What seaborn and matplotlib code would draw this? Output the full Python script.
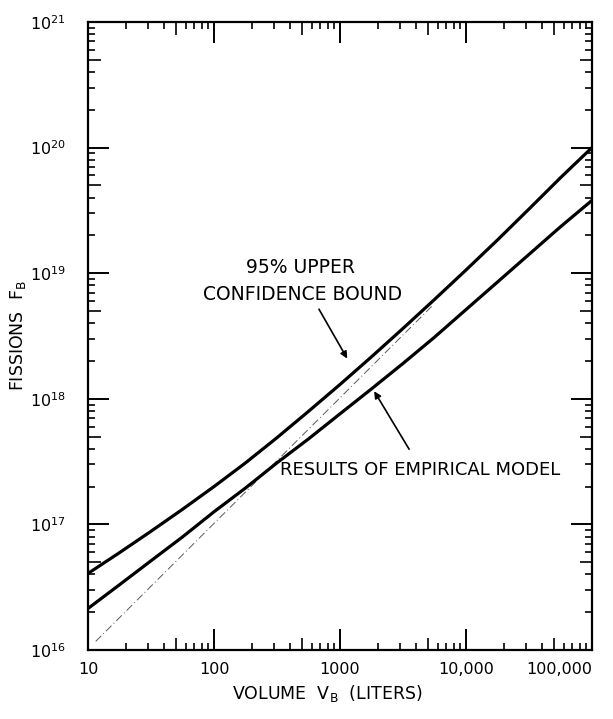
import numpy as np
import pandas as pd
import matplotlib
matplotlib.use("Agg")
import matplotlib.pyplot as plt
import matplotlib.ticker as mticker
import seaborn as sns

# values (log-log)
volume = [10, 17.8, 31.6, 56.2, 100, 178, 316, 562, 1000, 1780, 3160, 5620,
          10000, 17800, 31600, 56200, 100000]
fissions_upper = [4.07e16, 5.96e16, 8.81e16, 1.318e17, 2.0e17, 3.09e17, 4.9e17,
                  7.94e17, 1.30e18, 2.16e18, 3.63e18, 6.17e18, 1.06e19, 1.84e19,
                  3.24e19, 5.75e19, 1.0e20]
fissions_model = [2.14e16, 3.31e16, 5.13e16, 7.94e16, 1.26e17, 1.95e17, 3.09e17,
                  4.79e17, 7.59e17, 1.20e18, 1.91e18, 3.09e18, 5.13e18, 8.51e18,
                  1.41e19, 2.34e19, 3.8e19]

volume_thin = [11.5, 5500]
fissions_thin = [1.17e16, 5.6e18]

x_ticks = [10, 100, 1000, 10000, 100000]
x_ticklabels = ["10", "100", "1000", "10,000", "100,000"]

df_upper = pd.DataFrame({"volume": volume, "fissions": fissions_upper})
df_model = pd.DataFrame({"volume": volume, "fissions": fissions_model})
df_thin = pd.DataFrame({"volume": volume_thin, "fissions": fissions_thin})

sns.set_style("ticks")
plt.rcParams["font.family"] = ["DejaVu Sans"]
plt.rcParams["text.color"] = "black"

fig = plt.figure(figsize=(6.13, 7.19), dpi=100)
ax = fig.add_axes([0.1436, 0.096, 0.8221, 0.8734])

sns.lineplot(data=df_thin, x="volume", y="fissions", ax=ax, color="0.35",
             lw=0.7, linestyle=(0, (8, 3, 1, 3)))
sns.lineplot(data=df_upper, x="volume", y="fissions", ax=ax, color="black", lw=2.3)
sns.lineplot(data=df_model, x="volume", y="fissions", ax=ax, color="black", lw=2.3)

ax.set_xscale("log")
ax.set_yscale("log")
ax.set_xlim(10, 100000)
ax.set_ylim(1e16, 1e21)

# ticks
ax.xaxis.set_major_locator(mticker.FixedLocator(x_ticks))
ax.set_xticklabels(x_ticklabels)
ax.xaxis.set_minor_locator(mticker.LogLocator(base=10, subs=np.arange(2, 10), numticks=20))
ax.yaxis.set_major_locator(mticker.LogLocator(base=10, numticks=20))
ax.yaxis.set_minor_locator(mticker.LogLocator(base=10, subs=np.arange(2, 10), numticks=20))
ax.xaxis.set_minor_formatter(mticker.NullFormatter())
ax.yaxis.set_minor_formatter(mticker.NullFormatter())

ax.tick_params(which="both", direction="in", top=True, right=True, color="black")
ax.tick_params(which="major", length=15, width=1.4)
ax.tick_params(which="minor", length=5, width=1.2)
ax.tick_params(axis="x", which="major", labelsize=11.5, pad=9, labelcolor="black")
ax.tick_params(axis="y", which="major", labelsize=11.5, pad=16, labelcolor="black")

# longer minor tick at 5x
for axis in (ax.xaxis, ax.yaxis):
    locs = axis.get_minorticklocs()
    ticks = axis.get_minor_ticks(len(locs))
    for loc, t in zip(locs, ticks):
        mant = loc / 10 ** np.floor(np.log10(loc) + 1e-9)
        if abs(mant - 5) < 0.01:
            t.tick1line.set_markersize(9)
            t.tick2line.set_markersize(9)

last = ax.get_xticklabels()[-1]
last.set_horizontalalignment("right")

for s in ax.spines.values():
    s.set_linewidth(1.6)
    s.set_color("black")

ax.set_xlabel("VOLUME  V$_\\mathrm{B}$  (LITERS)", fontsize=12.5, color="black")
ax.set_ylabel("FISSIONS  F$_\\mathrm{B}$", fontsize=12.5, color="black")
ax.xaxis.set_label_coords(0.474, -0.052)
ax.yaxis.set_label_coords(-0.12, 0.5)

# annotations
ax.text(486, 1.12e19, "95% UPPER", ha="center", va="center", fontsize=13.5, color="black")
ax.text(504, 6.8e18, "CONFIDENCE BOUND", ha="center", va="center", fontsize=13.5, color="black")
ax.annotate("", xy=(1170, 2.0e18), xytext=(664, 5.4e18),
            arrowprops=dict(arrowstyle="-|>", color="black", lw=1.2, mutation_scale=10))
ax.text(337, 2.7e17, "RESULTS OF EMPIRICAL MODEL", ha="left", va="center", fontsize=13, color="black")
ax.annotate("", xy=(1820, 1.2e18), xytext=(3630, 3.8e17),
            arrowprops=dict(arrowstyle="-|>", color="black", lw=1.2, mutation_scale=10))

fig.savefig("out.png", dpi=100)
